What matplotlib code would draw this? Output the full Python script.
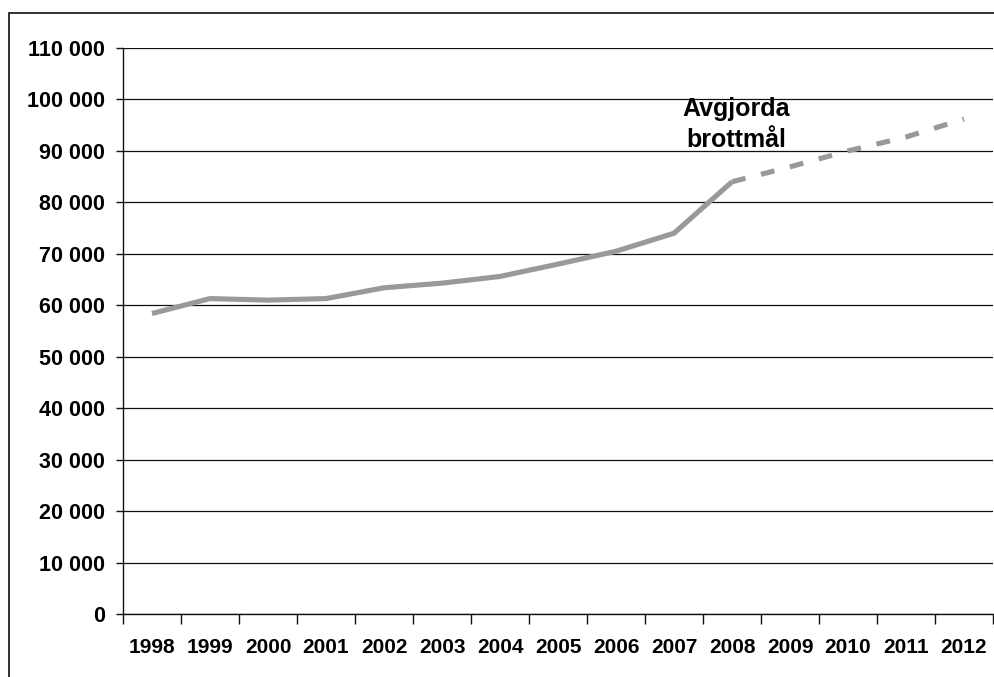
import matplotlib.pyplot as plt
import numpy as np
from matplotlib.patches import Rectangle
from matplotlib.ticker import FuncFormatter

plt.rcParams.update(
    {
        "font.family": ["Liberation Sans", "DejaVu Sans"],
        "font.weight": "bold",
        "lines.scale_dashes": False,
    }
)

years = ["1998", "1999", "2000", "2001", "2002", "2003", "2004", "2005",
         "2006", "2007", "2008", "2009", "2010", "2011", "2012"]
actual = [58400, 61300, 61000, 61300, 63400, 64300, 65600, 68000, 70500, 74000, 84000]
forecast = [84000, 86900, 90000, 92700, 96200]  # 2008-2012
label = "Avgjorda\nbrottmål"

fig = plt.figure(figsize=(9.95, 6.77), dpi=100)
ax = fig.add_axes([123 / 995, 63 / 677, 870 / 995, 566 / 677])

# outer frame
fig.patches.append(Rectangle((9 / 995, -0.1), 1.2, (677 - 13) / 677 + 0.1,
                             transform=fig.transFigure, fill=False,
                             edgecolor="#222222", linewidth=1.3))

x_act = np.arange(len(actual))
x_fc = np.arange(len(actual) - 1, len(years))
ax.plot(x_act, actual, color="#999999", linewidth=3.7, solid_capstyle="butt")
ax.plot(x_fc, forecast, color="#999999", linewidth=3.7, dashes=(10, 11.5),
        dash_capstyle="butt")

ax.text(10.07, 95100, label, ha="center", va="center", fontsize=18,
        fontweight="bold", linespacing=1.4)

ax.set_ylim(0, 110000)
ax.set_yticks(np.arange(0, 110001, 10000))
ax.yaxis.set_major_formatter(FuncFormatter(lambda v, p: f"{int(v):,}".replace(",", " ")))
ax.grid(axis="y", color="#111111", linewidth=0.9)
ax.set_axisbelow(True)

ax.set_xlim(-0.5, len(years) - 0.5)
ax.set_xticks(np.arange(-0.5, len(years), 1))
ax.set_xticklabels([])
ax.set_xticks(np.arange(len(years)), minor=True)
ax.set_xticklabels(years, minor=True)
ax.tick_params(axis="x", which="major", direction="out", length=7, width=1, color="#111111")
ax.tick_params(axis="x", which="minor", length=0, pad=17, labelsize=15)
ax.tick_params(axis="y", direction="out", length=5, width=1, pad=8, labelsize=15.5,
               color="#111111")

for s in ["top", "right"]:
    ax.spines[s].set_visible(False)
for s in ["left", "bottom"]:
    ax.spines[s].set_color("#111111")
    ax.spines[s].set_linewidth(1)

fig.savefig("out.png", dpi=100)
